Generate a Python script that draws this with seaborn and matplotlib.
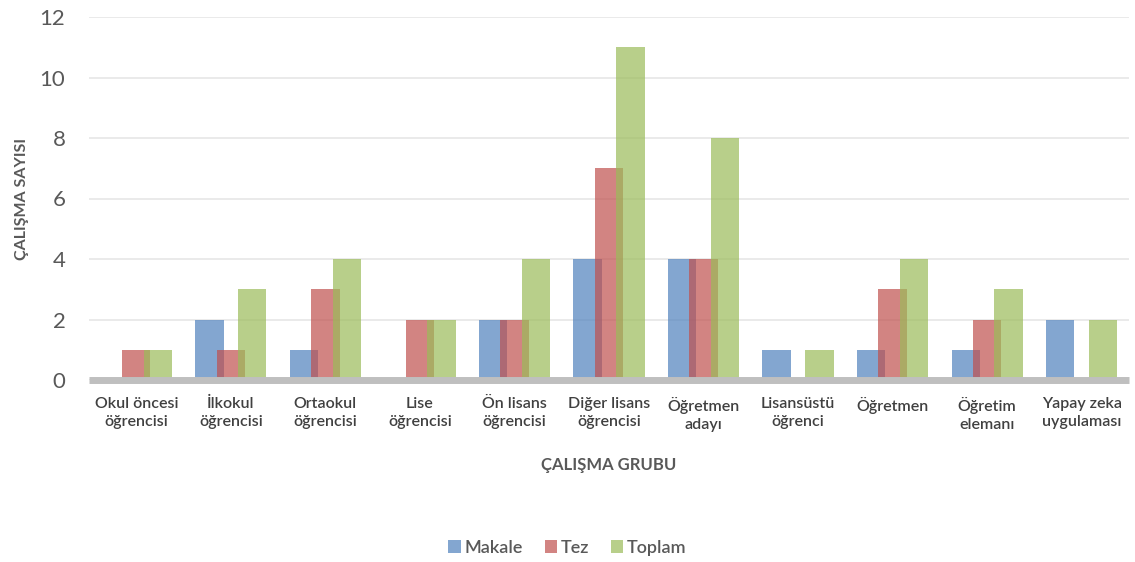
import matplotlib
matplotlib.use("Agg")
import matplotlib.pyplot as plt
import seaborn as sns
import pandas as pd
from matplotlib.patches import Patch

categories = ["Okul öncesi\nöğrencisi", "İlkokul\nöğrencisi", "Ortaokul\nöğrencisi",
              "Lise\nöğrencisi", "Ön lisans\nöğrencisi", "Diğer lisans\nöğrencisi",
              "Öğretmen\nadayı", "Lisansüstü\nöğrenci", "Öğretmen",
              "Öğretim\nelemanı", "Yapay zeka\nuygulaması"]
makale = [0, 2, 1, 0, 2, 4, 4, 1, 1, 1, 2]
tez = [1, 1, 3, 2, 2, 7, 4, 0, 3, 2, 0]
toplam = [1, 3, 4, 2, 4, 11, 8, 1, 4, 3, 2]
series_names = ["Makale", "Tez", "Toplam"]
colors = ["#4F81BD", "#C0504D", "#9BBB59"]

rows = []
for name, vals in zip(series_names, [makale, tez, toplam]):
    for c, v in zip(categories, vals):
        rows.append({"grup": c, "seri": name, "deger": v})
df = pd.DataFrame(rows)

sns.set_style("white")
plt.rcParams["font.family"] = ["Lato", "DejaVu Sans"]
text_color = "#595959"

fig = plt.figure(figsize=(11.35, 5.62), dpi=100)
ax = fig.add_axes([89 / 1135, 1 - 380 / 562, (1129 - 89) / 1135, (380 - 17) / 562])

sns.barplot(data=df, x="grup", y="deger", hue="seri", order=categories,
            hue_order=series_names, palette=colors, width=0.68, saturation=1,
            alpha=0.7, linewidth=0, edgecolor="none", legend=False, ax=ax, zorder=2)

bw = 0.30
for p in ax.patches:
    cx = p.get_x() + p.get_width() / 2
    p.set_width(bw)
    p.set_x(cx - bw / 2)

ax.set_xlim(-0.5, len(categories) - 0.5)
ax.set_ylim(0, 12)
ax.set_yticks(range(0, 13, 2))
ax.yaxis.grid(True, color="#E6E6E6", linewidth=1.2, zorder=0)
ax.set_axisbelow(True)
for s in ax.spines.values():
    s.set_visible(False)
ax.axhline(0, color="#BFBFBF", linewidth=5, zorder=5, clip_on=False,
           solid_capstyle="butt")

ax.tick_params(axis="y", length=0, pad=17, labelsize=16, labelcolor=text_color)
ax.tick_params(axis="x", length=0, pad=12, labelsize=11.5, labelcolor="#404040")
for lbl in ax.get_xticklabels():
    lbl.set_fontweight("semibold")
    lbl.set_linespacing(1.4)

ax.set_xlabel("ÇALIŞMA GRUBU", fontsize=12, color=text_color, fontweight="bold", labelpad=18)
ax.set_ylabel("ÇALIŞMA SAYISI", fontsize=11.5, color=text_color, fontweight="bold")
ax.yaxis.set_label_coords(-0.058, 0.5)

handles = [Patch(facecolor=c, alpha=0.7, edgecolor="none") for c in colors]
fig.legend(handles, series_names, loc="center", bbox_to_anchor=(0.5, 1 - 548 / 562),
           ncol=3, frameon=False, handlelength=0.7, handleheight=0.7,
           handletextpad=0.2, columnspacing=1.2, labelcolor=text_color,
           prop={"weight": "semibold", "size": 13})

fig.savefig("out.png", dpi=100)
